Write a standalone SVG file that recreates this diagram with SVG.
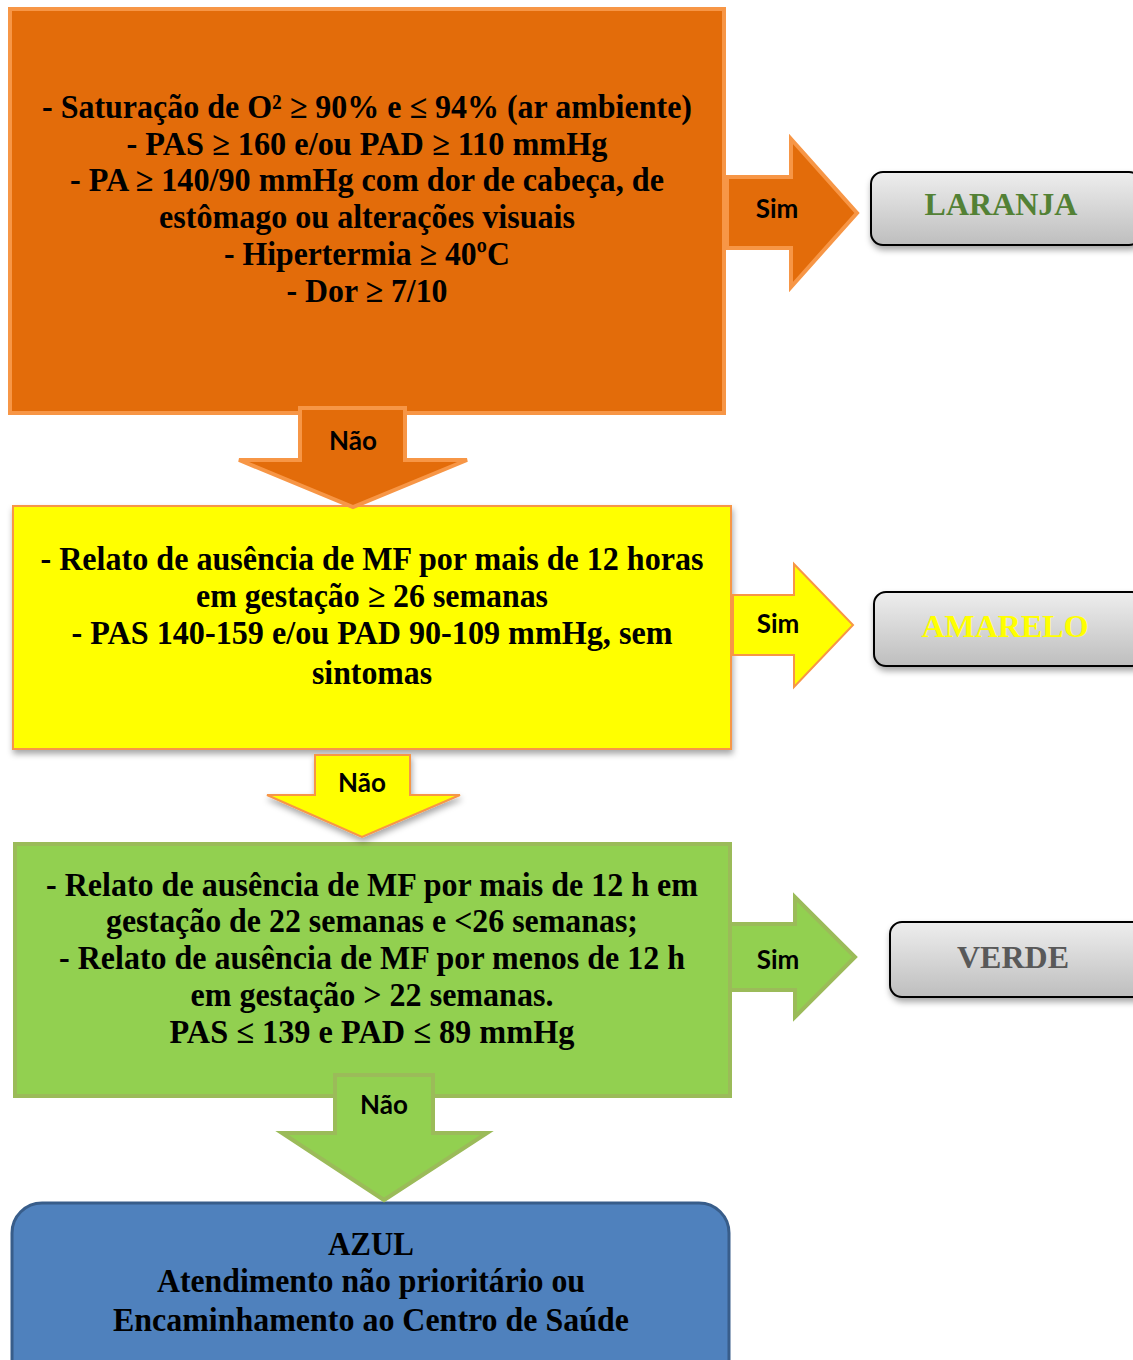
<svg xmlns="http://www.w3.org/2000/svg" width="1133" height="1360" viewBox="0 0 1133 1360">
  <style>
    .t { font-family: "Liberation Serif", "Times New Roman", serif; font-weight: bold; font-size: 33px; fill: #000; text-anchor: middle; }
    .lbl { font-family: "Lato", "Open Sans", "Liberation Sans", sans-serif; font-weight: bold; font-size: 26px; fill: #000; text-anchor: middle; }
    .res { font-family: "Liberation Serif", "Times New Roman", serif; font-weight: bold; font-size: 32px; text-anchor: middle; }
    .pill { fill: url(#grayGrad); stroke: #000; stroke-width: 2; }
  </style>
  <defs>
    <linearGradient id="grayGrad" x1="0" y1="0" x2="0" y2="1">
      <stop offset="0" stop-color="#EEEEEE"/>
      <stop offset="1" stop-color="#BEBEBE"/>
    </linearGradient>
    <filter id="shadow" x="-10%" y="-20%" width="130%" height="150%">
      <feDropShadow dx="1" dy="4" stdDeviation="3" flood-color="#000" flood-opacity="0.35"/>
    </filter>
  </defs>

  <!-- decision boxes -->
  <g id="orange-box">
    <rect x="10" y="9" width="714" height="404" fill="#E36C0A" stroke="#F79646" stroke-width="4"/>
    <text class="t" x="367" y="118" textLength="650" lengthAdjust="spacingAndGlyphs">- Saturação de O² ≥ 90% e ≤ 94% (ar ambiente)</text>
    <text class="t" x="367" y="155" textLength="481" lengthAdjust="spacingAndGlyphs">- PAS ≥ 160 e/ou PAD ≥ 110 mmHg</text>
    <text class="t" x="367" y="191" textLength="594" lengthAdjust="spacingAndGlyphs">- PA ≥ 140/90 mmHg com dor de cabeça, de</text>
    <text class="t" x="367" y="228" textLength="416" lengthAdjust="spacingAndGlyphs">estômago ou alterações visuais</text>
    <text class="t" x="367" y="265" textLength="286" lengthAdjust="spacingAndGlyphs">- Hipertermia ≥ 40ºC</text>
    <text class="t" x="367" y="302" textLength="161" lengthAdjust="spacingAndGlyphs">- Dor ≥ 7/10</text>
  </g>

  <g id="yellow-box">
    <rect x="13" y="506" width="718" height="243" fill="#FFFF00" stroke="#F79646" stroke-width="2" filter="url(#shadow)"/>
    <text class="t" x="372" y="570" textLength="663" lengthAdjust="spacingAndGlyphs">- Relato de ausência de MF por mais de 12 horas</text>
    <text class="t" x="372" y="607" textLength="352" lengthAdjust="spacingAndGlyphs">em gestação ≥ 26 semanas</text>
    <text class="t" x="372" y="644" textLength="601" lengthAdjust="spacingAndGlyphs">- PAS 140-159 e/ou PAD 90-109 mmHg, sem</text>
    <text class="t" x="372" y="684" textLength="120" lengthAdjust="spacingAndGlyphs">sintomas</text>
  </g>

  <g id="green-box">
    <rect x="15" y="844" width="715" height="252" fill="#92D050" stroke="#9BBB59" stroke-width="4"/>
    <text class="t" x="372" y="896" textLength="652" lengthAdjust="spacingAndGlyphs">- Relato de ausência de MF por mais de 12 h em</text>
    <text class="t" x="372" y="932" textLength="532" lengthAdjust="spacingAndGlyphs">gestação de 22 semanas e &lt;26 semanas;</text>
    <text class="t" x="372" y="969" textLength="626" lengthAdjust="spacingAndGlyphs">- Relato de ausência de MF por menos de 12 h</text>
    <text class="t" x="372" y="1006" textLength="363" lengthAdjust="spacingAndGlyphs">em gestação &gt; 22 semanas.</text>
    <text class="t" x="372" y="1043" textLength="405" lengthAdjust="spacingAndGlyphs">PAS ≤ 139 e PAD ≤ 89 mmHg</text>
  </g>

  <g id="blue-box">
    <rect x="12" y="1203" width="717" height="200" rx="30" ry="30" fill="#4F81BD" stroke="#385D8A" stroke-width="3"/>
    <text class="t" x="371" y="1255" textLength="86" lengthAdjust="spacingAndGlyphs">AZUL</text>
    <text class="t" x="371" y="1292" textLength="428" lengthAdjust="spacingAndGlyphs">Atendimento não prioritário ou</text>
    <text class="t" x="371" y="1331" textLength="516" lengthAdjust="spacingAndGlyphs">Encaminhamento ao Centro de Saúde</text>
  </g>

  <!-- result labels -->
  <g id="laranja">
    <rect class="pill" x="871" y="172" width="270" height="73" rx="12" ry="12" filter="url(#shadow)"/>
    <text class="res" x="1001" y="215" fill="#538135">LARANJA</text>
  </g>
  <g id="amarelo">
    <rect class="pill" x="874" y="592" width="270" height="74" rx="12" ry="12" filter="url(#shadow)"/>
    <text class="res" x="1005" y="637" fill="#FFFF00">AMARELO</text>
  </g>
  <g id="verde">
    <rect class="pill" x="890" y="922" width="260" height="75" rx="12" ry="12" filter="url(#shadow)"/>
    <text class="res" x="1013" y="968" fill="#595959">VERDE</text>
  </g>

  <!-- block arrows -->
  <g id="connectors">
    <polygon points="727,177 791,177 791,139 857,213 791,287 791,248 727,248" fill="#E36C0A" stroke="#F79646" stroke-width="4" stroke-linejoin="miter"/>
    <text class="lbl" x="777" y="218">Sim</text>

    <polygon points="300,408 405,408 405,460 467,460 353,507 239,460 300,460" fill="#E36C0A" stroke="#F79646" stroke-width="4"/>
    <text class="lbl" x="353" y="450">Não</text>

    <polygon points="733,595 794,595 794,564 853,625 794,687 794,655 733,655" fill="#FFFF00" stroke="#F79646" stroke-width="2"/>
    <text class="lbl" x="778" y="633">Sim</text>

    <polygon points="315,755 410,755 410,795 460,795 362,837 267,795 315,795" fill="#FFFF00" stroke="#F79646" stroke-width="2" filter="url(#shadow)"/>
    <text class="lbl" x="362" y="792">Não</text>

    <polygon points="730,924 795,924 795,897 855,957 795,1017 795,990 730,990" fill="#92D050" stroke="#9BBB59" stroke-width="4"/>
    <text class="lbl" x="778" y="969">Sim</text>

    <polygon points="335,1075 433,1075 433,1133 487,1133 384,1200 282,1133 335,1133" fill="#92D050" stroke="#9BBB59" stroke-width="4"/>
    <text class="lbl" x="384" y="1114">Não</text>
  </g>
</svg>
